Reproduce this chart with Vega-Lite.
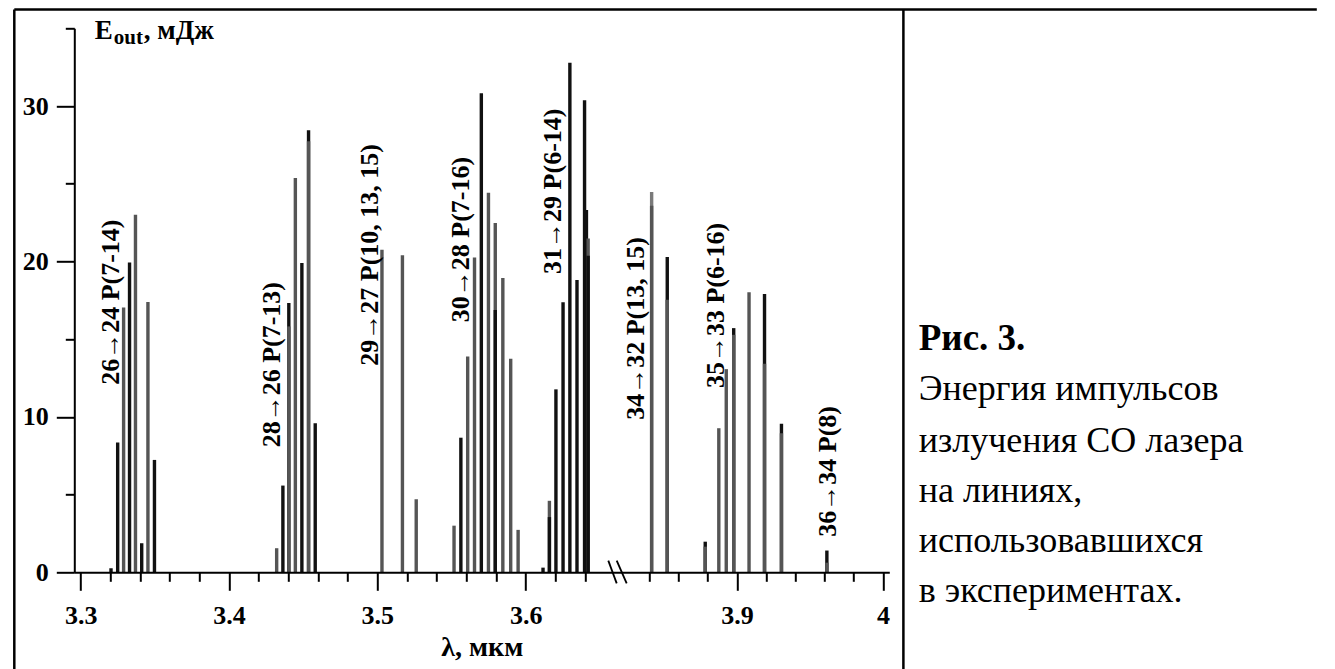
{
  "$schema": "https://vega.github.io/schema/vega-lite/v6.json",
  "autosize": {"type": "none"},
  "padding": {"left": 74.3, "top": 28.3, "right": 445.7, "bottom": 96.7},
  "width": 815,
  "height": 544,
  "background": "white",
  "config": {"view": {"stroke": null}, "font": "Liberation Serif", "text": {"font": "Liberation Serif", "color": "black"}},
  "datasets": {
    "bars": [
      {"lam": 3.3204, "E": 0.26, "s": "a"},
      {"lam": 3.3249, "E": 8.35, "s": "a"},
      {"lam": 3.3289, "E": 17.04, "s": "b"},
      {"lam": 3.3329, "E": 19.94, "s": "a"},
      {"lam": 3.3369, "E": 23.0, "s": "b"},
      {"lam": 3.3411, "E": 1.87, "s": "a"},
      {"lam": 3.3453, "E": 17.39, "s": "b"},
      {"lam": 3.3497, "E": 7.23, "s": "a"},
      {"lam": 3.4321, "E": 1.55, "s": "b"},
      {"lam": 3.4363, "E": 5.58, "s": "a"},
      {"lam": 3.4403, "E": 17.32, "s": "a"},
      {"lam": 3.4403, "E": 15.82, "s": "b"},
      {"lam": 3.4447, "E": 25.37, "s": "b"},
      {"lam": 3.4491, "E": 19.9, "s": "a"},
      {"lam": 3.4536, "E": 28.44, "s": "a"},
      {"lam": 3.4536, "E": 27.73, "s": "b"},
      {"lam": 3.4581, "E": 9.59, "s": "a"},
      {"lam": 3.5031, "E": 20.75, "s": "b"},
      {"lam": 3.5169, "E": 20.4, "s": "b"},
      {"lam": 3.5262, "E": 4.7, "s": "b"},
      {"lam": 3.5517, "E": 3.0, "s": "b"},
      {"lam": 3.5563, "E": 8.66, "s": "a"},
      {"lam": 3.5609, "E": 13.88, "s": "b"},
      {"lam": 3.5655, "E": 20.25, "s": "b"},
      {"lam": 3.5701, "E": 30.82, "s": "a"},
      {"lam": 3.5749, "E": 24.42, "s": "b"},
      {"lam": 3.5795, "E": 22.47, "s": "b"},
      {"lam": 3.5795, "E": 16.87, "s": "a"},
      {"lam": 3.5846, "E": 18.94, "s": "b"},
      {"lam": 3.5899, "E": 13.74, "s": "b"},
      {"lam": 3.5949, "E": 2.73, "s": "b"},
      {"lam": 3.6117, "E": 0.3, "s": "a"},
      {"lam": 3.616, "E": 4.6, "s": "b"},
      {"lam": 3.616, "E": 3.55, "s": "a"},
      {"lam": 3.6204, "E": 11.77, "s": "a"},
      {"lam": 3.6252, "E": 17.38, "s": "a"},
      {"lam": 3.6298, "E": 32.79, "s": "a"},
      {"lam": 3.6346, "E": 18.8, "s": "a"},
      {"lam": 3.6397, "E": 30.37, "s": "a"},
      {"lam": 3.6445, "E": 23.31, "s": "a"},
      {"lam": 3.6498, "E": 21.47, "s": "b"},
      {"lam": 3.6498, "E": 20.36, "s": "a"},
      {"lam": 3.8416, "E": 24.47, "s": "c"},
      {"lam": 3.8416, "E": 23.58, "s": "b"},
      {"lam": 3.8523, "E": 20.28, "s": "a"},
      {"lam": 3.8523, "E": 17.54, "s": "b"},
      {"lam": 3.8783, "E": 1.97, "s": "a"},
      {"lam": 3.8783, "E": 1.65, "s": "b"},
      {"lam": 3.8876, "E": 9.27, "s": "b"},
      {"lam": 3.8927, "E": 13.07, "s": "b"},
      {"lam": 3.8978, "E": 15.71, "s": "a"},
      {"lam": 3.8978, "E": 15.28, "s": "b"},
      {"lam": 3.9083, "E": 18.01, "s": "b"},
      {"lam": 3.9189, "E": 17.9, "s": "a"},
      {"lam": 3.9189, "E": 13.41, "s": "b"},
      {"lam": 3.9305, "E": 9.55, "s": "a"},
      {"lam": 3.9305, "E": 8.95, "s": "b"},
      {"lam": 3.9616, "E": 1.4, "s": "a"},
      {"lam": 3.9616, "E": 0.62, "s": "b"}
    ],
    "labels": [
      {"lam": 3.3204, "E": 12.06, "t": "26→24 P(7-14)"},
      {"lam": 3.429, "E": 8.04, "t": "28→26 P(7-13)"},
      {"lam": 3.4947, "E": 13.29, "t": "29→27 P(10, 13, 15)"},
      {"lam": 3.5565, "E": 16.09, "t": "30→28 P(7-16)"},
      {"lam": 3.6184, "E": 19.2, "t": "31→29 P(6-14)"},
      {"lam": 3.798, "E": 9.81, "t": "34→32 P(13, 15)"},
      {"lam": 3.886, "E": 11.85, "t": "35→33 P(6-16)"},
      {"lam": 3.9627, "E": 2.29, "t": "36→34 P(8)"}
    ],
    "frame": [
      {"lam": 3.2552, "lam2": 4.2971, "E": 36.21, "E2": 36.21},
      {"lam": 3.2552, "lam2": 3.2552, "E": 36.21, "E2": -6.4},
      {"lam": 4.014, "lam2": 4.014, "E": 36.21, "E2": -6.4}
    ],
    "breaks": [
      {"lam": 3.7125, "lam2": 3.7386, "E": 0.75, "E2": -0.71},
      {"lam": 3.7386, "lam2": 3.7697, "E": 0.75, "E2": -0.71}
    ],
    "caption": [
      {"lam": 4.0245, "E": 11.088, "t": "Энергия импульсов"},
      {"lam": 4.0245, "E": 7.761, "t": "излучения СО лазера"},
      {"lam": 4.0245, "E": 4.543, "t": "на линиях,"},
      {"lam": 4.0245, "E": 1.326, "t": "использовавшихся"},
      {"lam": 4.0245, "E": -1.911, "t": "в экспериментах."}
    ]
  },
  "encoding": {
    "x": {
      "field": "lam", "type": "quantitative",
      "scale": {"domain": [3.3, 3.64, 3.84, 4.0], "range": [0, 510.7, 575, 815], "nice": false, "zero": false},
      "axis": {
        "values": [3.3, 3.32, 3.34, 3.36, 3.38, 3.4, 3.42, 3.44, 3.46, 3.48, 3.5, 3.52, 3.54, 3.56, 3.58, 3.6, 3.62, 3.64, 3.84, 3.86, 3.88, 3.9, 3.92, 3.94, 3.96, 3.98, 4.0],
        "labelExpr": "abs(datum.value*10 - round(datum.value*10)) < 0.001 ? format(datum.value, '.1~f') : ''",
        "tickSize": {"condition": {"test": "abs(datum.value*10 - round(datum.value*10)) < 0.001", "value": 18}, "value": 9},
        "title": "λ, мкм",
        "titleFont": "Liberation Serif", "titleFontSize": 28, "titleFontWeight": "bold", "titleColor": "black", "titlePadding": 5,
        "labelFont": "Liberation Serif", "labelFontSize": 26, "labelFontWeight": "bold", "labelColor": "black",
        "labelPadding": 12, "labelFlush": false, "labelOverlap": false,
        "domainColor": "black", "domainWidth": 2, "tickColor": "black", "tickWidth": 2, "grid": false, "zindex": 1
      }
    },
    "y": {
      "field": "E", "type": "quantitative",
      "scale": {"domain": [0, 35], "nice": false, "zero": false},
      "axis": {
        "values": [0, 5, 10, 15, 20, 25, 30, 35],
        "labelExpr": "datum.value % 10 == 0 ? datum.label : ''",
        "tickSize": {"condition": {"test": "datum.value % 10 == 0", "value": 18}, "value": 9},
        "title": null,
        "labelFont": "Liberation Serif", "labelFontSize": 26, "labelFontWeight": "bold", "labelColor": "black",
        "labelPadding": 8, "labelFlush": false, "labelOverlap": false,
        "domainColor": "black", "domainWidth": 2, "tickColor": "black", "tickWidth": 2, "grid": false, "zindex": 1
      }
    }
  },
  "layer": [
    {
      "data": {"name": "bars"},
      "mark": {"type": "bar", "width": 3.4},
      "encoding": {
        "y": {"field": "E", "type": "quantitative", "stack": null},
        "color": {"field": "s", "type": "nominal", "scale": {"domain": ["a", "b", "c"], "range": ["#111111", "#555555", "#7a7a7a"]}, "legend": null},
        "order": {"field": "E", "sort": "descending"}
      }
    },
    {
      "data": {"name": "labels"},
      "mark": {"type": "text", "angle": 270, "align": "left", "baseline": "middle", "fontSize": 26, "fontWeight": "bold"},
      "encoding": {"text": {"field": "t"}}
    },
    {
      "data": {"name": "frame"},
      "mark": {"type": "rule", "strokeWidth": 2.5, "color": "black"},
      "encoding": {"x2": {"field": "lam2"}, "y2": {"field": "E2"}}
    },
    {
      "data": {"name": "breaks"},
      "mark": {"type": "rule", "strokeWidth": 1.8, "color": "black"},
      "encoding": {"x2": {"field": "lam2"}, "y2": {"field": "E2"}}
    },
    {
      "data": {"values": [{"lam": 3.3, "E": 35}]},
      "mark": {"type": "text", "text": "E", "align": "left", "baseline": "alphabetic", "dx": 14, "dy": 11, "fontSize": 27, "fontWeight": "bold"}
    },
    {
      "data": {"values": [{"lam": 3.3, "E": 35}]},
      "mark": {"type": "text", "text": "out", "align": "left", "baseline": "alphabetic", "dx": 33, "dy": 16, "fontSize": 21, "fontWeight": "bold"}
    },
    {
      "data": {"values": [{"lam": 3.3, "E": 35}]},
      "mark": {"type": "text", "text": ", мДж", "align": "left", "baseline": "alphabetic", "dx": 63, "dy": 11, "fontSize": 27, "fontWeight": "bold"}
    },
    {
      "data": {"values": [{"lam": 4.0245, "E": 14.305, "t": "Рис. 3."}]},
      "mark": {"type": "text", "align": "left", "baseline": "alphabetic", "fontSize": 37, "fontWeight": "bold"},
      "encoding": {"text": {"field": "t"}}
    },
    {
      "data": {"name": "caption"},
      "mark": {"type": "text", "align": "left", "baseline": "alphabetic", "fontSize": 36},
      "encoding": {"text": {"field": "t"}}
    }
  ]
}
